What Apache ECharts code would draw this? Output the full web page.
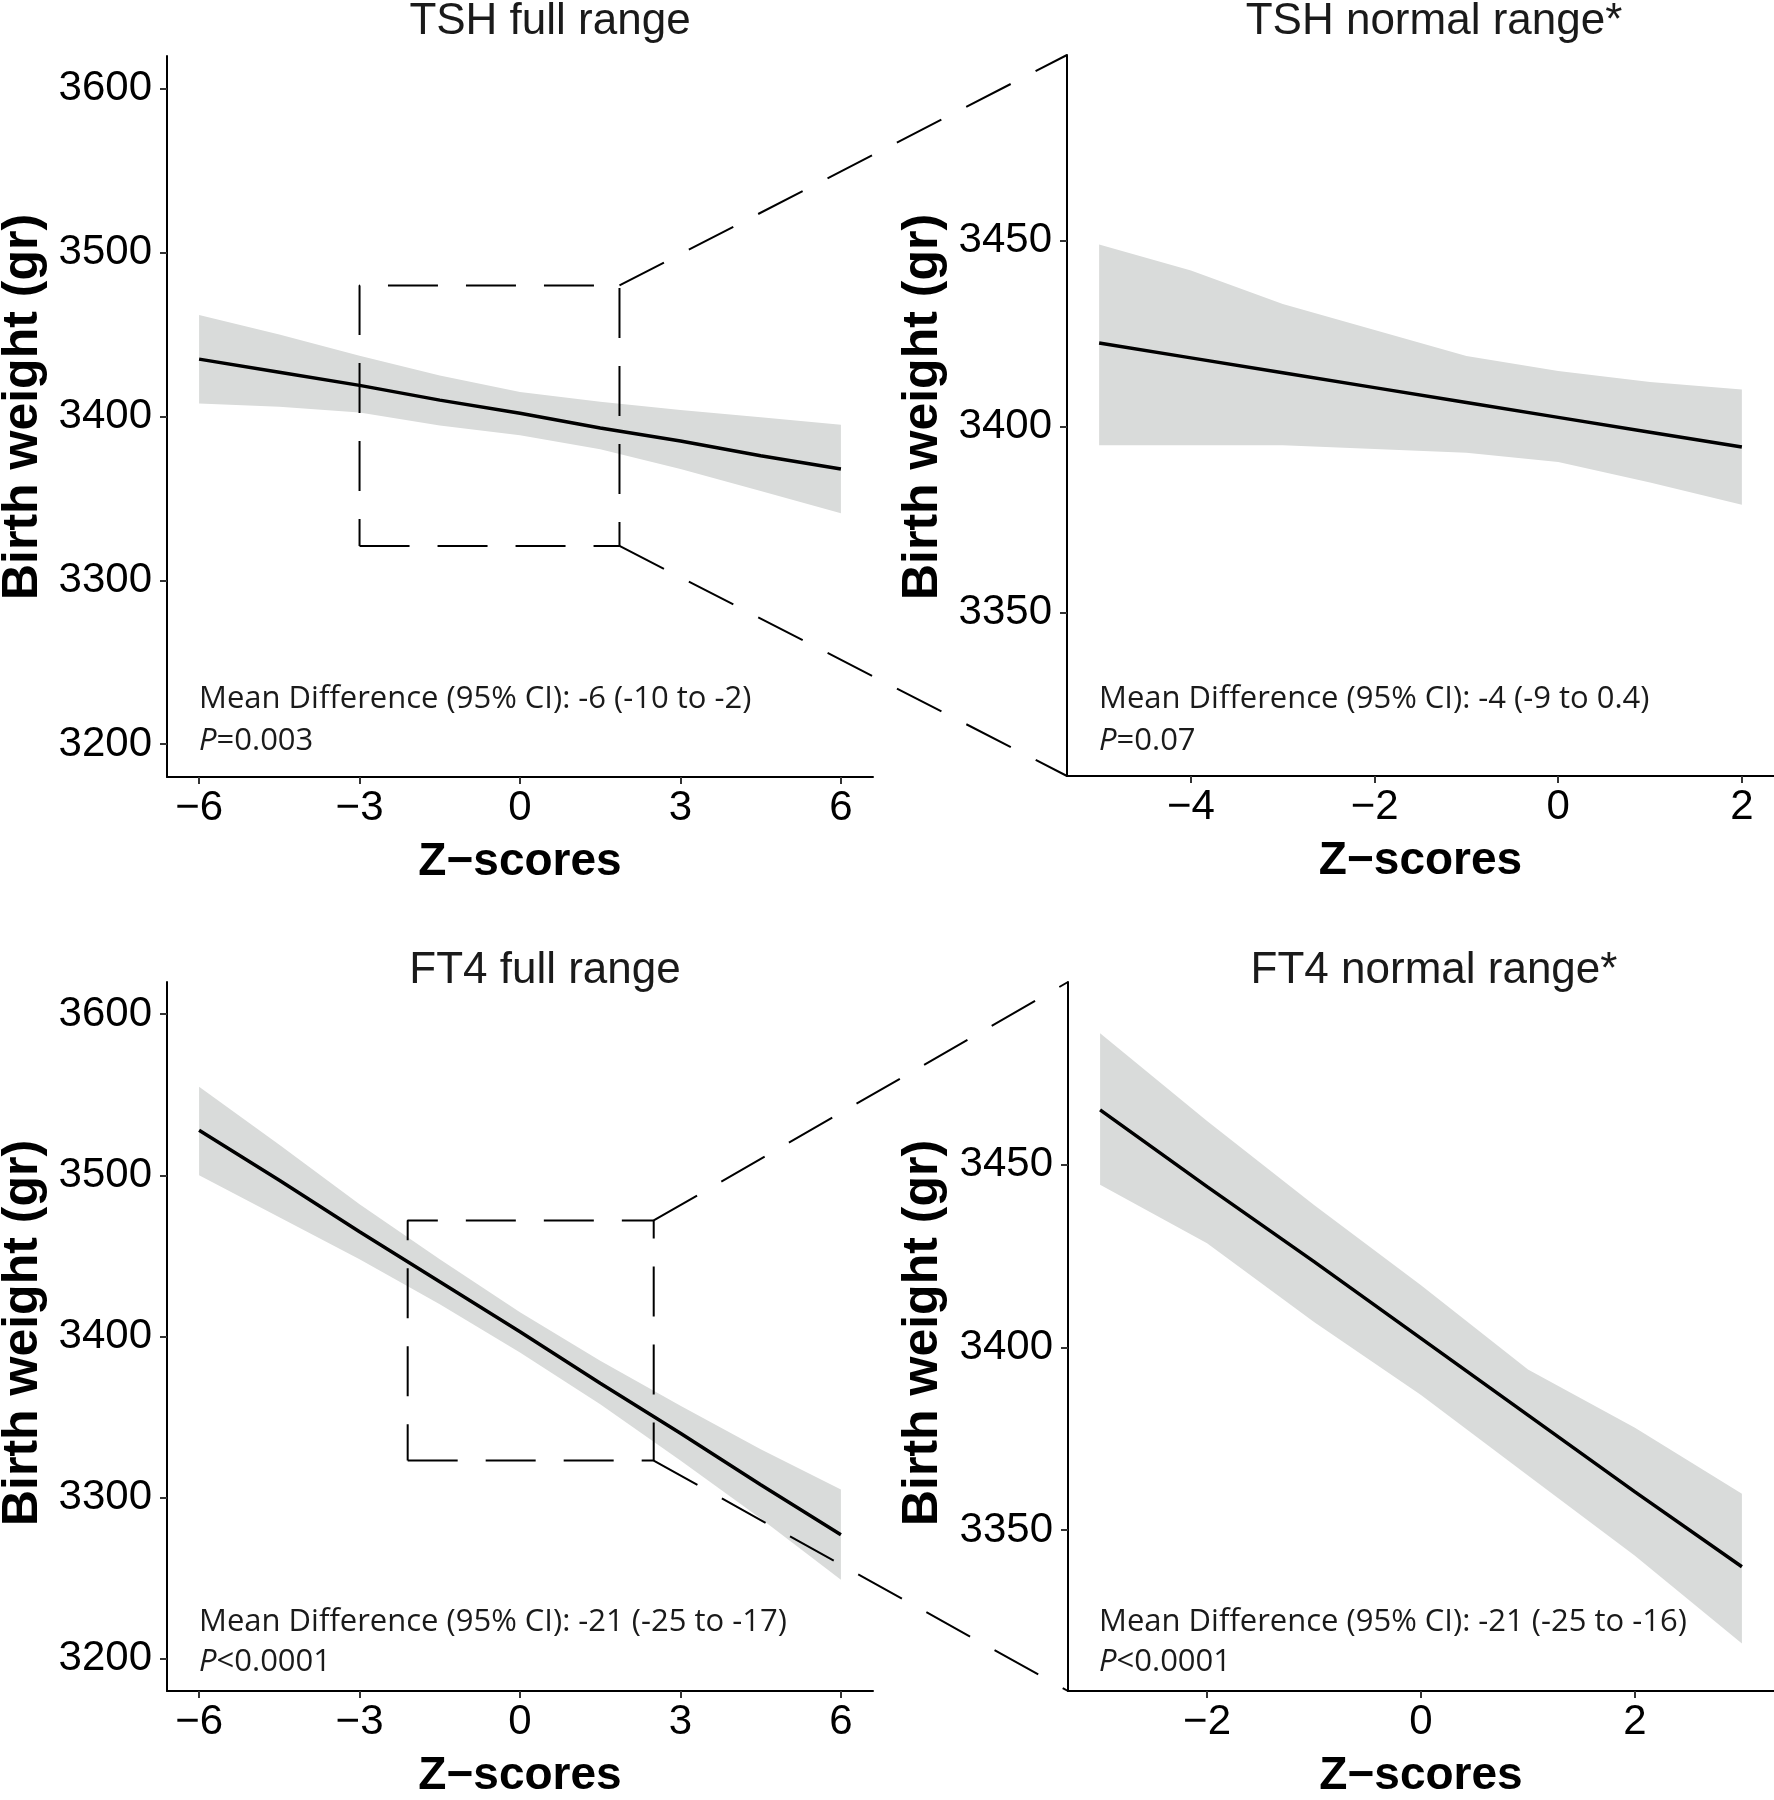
<!DOCTYPE html>
<html><head><meta charset="utf-8">
<script src="https://cdn.jsdelivr.net/npm/echarts@6/dist/echarts.min.js"></script>
<style>html,body{margin:0;padding:0;background:#fff}#c{width:1774px;height:1800px}</style>
</head><body><div id="c"></div>
<script>
// ---------- data ----------
const tshFullX     = [-6, -4.5, -3, -1.5, 0, 1.5, 3, 4.5, 6];
const tshFullFit   = [3435, 3427, 3419, 3410, 3402, 3393, 3385, 3376, 3368];
const tshFullUpper = [3462, 3450, 3437, 3425, 3415, 3409, 3404, 3399.5, 3395];
const tshFullLower = [3408, 3406, 3402.5, 3394.5, 3388.5, 3380, 3368, 3354.5, 3341];

const tshNormX     = [-5, -4, -3, -2, -1, 0, 1, 2];
const tshNormFit   = [3422.5, 3418.5, 3414.5, 3410.5, 3406.5, 3402.5, 3398.5, 3394.5];
const tshNormUpper = [3449, 3442, 3433, 3426, 3419, 3415, 3412, 3410];
const tshNormLower = [3395, 3395, 3395, 3394, 3393, 3390.5, 3385, 3379];

const ft4FullX     = [-6, -4.5, -3, -1.5, 0, 1.5, 3, 4.5, 6];
const ft4FullFit   = [3528, 3497, 3465, 3434, 3403, 3371, 3340, 3308, 3277];
const ft4FullUpper = [3555, 3519, 3482, 3448, 3415, 3385, 3357, 3330, 3305];
const ft4FullLower = [3500, 3474, 3448, 3420, 3390, 3358, 3323, 3287, 3249];

const ft4NormX     = [-3, -2, -1, 0, 1, 2, 3];
const ft4NormFit   = [3465, 3444, 3423.5, 3402.5, 3381.5, 3360.5, 3340];
const ft4NormUpper = [3486, 3462, 3439, 3417, 3394, 3378, 3360];
const ft4NormLower = [3444.5, 3428.5, 3407, 3387, 3365, 3343, 3319];

// zoom boxes drawn in the full-range panels [x0, x1], [y0, y1]
const tshBoxX = [-3, 1.86];
const tshBoxY = [3321, 3480];
const ft4BoxX = [-2.1, 2.5];
const ft4BoxY = [3323, 3472];

// tick labels
const fullXTicks = [-6, -3, 0, 3, 6];
const tshNormXTicks = [-4, -2, 0, 2];
const ft4NormXTicks = [-2, 0, 2];
const fullYTicks = [3200, 3300, 3400, 3500, 3600];
const normYTicks = [3350, 3400, 3450];

// texts
const panelTitles = ['TSH full range', 'TSH normal range*', 'FT4 full range', 'FT4 normal range*'];
const meanDiffTexts = [
  'Mean Difference (95% CI): -6 (-10 to -2)',
  'Mean Difference (95% CI): -4 (-9 to 0.4)',
  'Mean Difference (95% CI): -21 (-25 to -17)',
  'Mean Difference (95% CI): -21 (-25 to -16)'
];
const pTexts = ['=0.003', '=0.07', '<0.0001', '<0.0001'];
const xTitle = 'Z\u2212scores';
const yTitle = 'Birth weight (gr)';

// ---------- layout / style ----------
const AX_FONT = '"Liberation Sans", Arial, sans-serif';
const NOTE_FONT = '"Open Sans", sans-serif';
const grids = [
  {left: 167, top: 56, width: 706, height: 721},
  {left: 1067, top: 55, width: 710, height: 721},
  {left: 167, top: 982, width: 706, height: 720},
  {left: 1068, top: 982, width: 710, height: 720}
];
const xRanges = [[-6.6, 6.6], [-5.35, 2.35], [-6.6, 6.6], [-3.3, 3.3]];
const yRanges = [[3180, 3620], [3306, 3500], [3180, 3620], [3306, 3500]];
const xTickSets = [fullXTicks, tshNormXTicks, fullXTicks, ft4NormXTicks];
const yTickSets = [fullYTicks, normYTicks, fullYTicks, normYTicks];

const fmt = v => (v < 0 ? '\u2212' + Math.abs(v) : String(v));

function axisCommon(i, isX) {
  const r = isX ? xRanges[i] : yRanges[i];
  const ticks = isX ? xTickSets[i] : yTickSets[i];
  const ax = {
    type: 'value', gridIndex: i, min: r[0], max: r[1],
    axisLine: {show: true, onZero: false, lineStyle: {color: '#000', width: 2}},
    axisTick: {show: true, length: 7, customValues: ticks, lineStyle: {color: '#333', width: 2}},
    axisLabel: {customValues: ticks, formatter: fmt, fontSize: 42, fontFamily: AX_FONT,
      color: '#000', margin: isX ? 10 : 15},
    splitLine: {show: false}
  };
  if (isX) {
    ax.name = xTitle;
    ax.nameLocation = 'middle';
    ax.nameGap = 62;
    ax.nameTextStyle = {fontSize: 46, fontWeight: 'bold', fontFamily: AX_FONT, color: '#000'};
  }
  return ax;
}

function bandSeries(i, xs, lo, up) {
  const data = xs.map((x, k) => [x, lo[k], up[k]]);
  return {
    type: 'custom', xAxisIndex: i, yAxisIndex: i, data: data, silent: true, z: 1,
    encode: {x: 0, y: [1, 2]},
    renderItem: function (params, api) {
      if (params.dataIndex !== 0) return null;
      const pts = [];
      for (let k = 0; k < data.length; k++) pts.push(api.coord([data[k][0], data[k][2]]));
      for (let k = data.length - 1; k >= 0; k--) pts.push(api.coord([data[k][0], data[k][1]]));
      return {type: 'polygon', shape: {points: pts}, style: {fill: '#d9dbda'}};
    }
  };
}
function fitSeries(i, xs, ys) {
  return {type: 'line', xAxisIndex: i, yAxisIndex: i, data: xs.map((x, k) => [x, ys[k]]),
    symbol: 'none', silent: true, z: 3, lineStyle: {color: '#000', width: 3.5}};
}
const DASH = [50, 28];
function boxSeries(i, bx, by) {
  return {type: 'line', xAxisIndex: i, yAxisIndex: i, symbol: 'none', silent: true, z: 5,
    data: [[bx[0], by[0]], [bx[1], by[0]], [bx[1], by[1]], [bx[0], by[1]], [bx[0], by[0]]],
    lineStyle: {color: '#000', width: 2, type: DASH}};
}

const chart = echarts.init(document.getElementById('c'), null, {renderer: 'canvas'});
chart.setOption({
  animation: false,
  backgroundColor: '#fff',
  grid: grids.map(g => Object.assign({containLabel: false}, g)),
  xAxis: [0, 1, 2, 3].map(i => axisCommon(i, true)),
  yAxis: [0, 1, 2, 3].map(i => axisCommon(i, false)),
  series: [
    bandSeries(0, tshFullX, tshFullLower, tshFullUpper), fitSeries(0, tshFullX, tshFullFit), boxSeries(0, tshBoxX, tshBoxY),
    bandSeries(1, tshNormX, tshNormLower, tshNormUpper), fitSeries(1, tshNormX, tshNormFit),
    bandSeries(2, ft4FullX, ft4FullLower, ft4FullUpper), fitSeries(2, ft4FullX, ft4FullFit), boxSeries(2, ft4BoxX, ft4BoxY),
    bandSeries(3, ft4NormX, ft4NormLower, ft4NormUpper), fitSeries(3, ft4NormX, ft4NormFit)
  ]
});

// connecting lines from zoom box corners to the zoomed panel corners (via library scales)
function conn(fromGrid, bx, by, toGrid) {
  const a1 = chart.convertToPixel({gridIndex: fromGrid}, [bx[1], by[1]]);
  const b1 = chart.convertToPixel({gridIndex: toGrid}, [xRanges[toGrid][0], yRanges[toGrid][1]]);
  const a2 = chart.convertToPixel({gridIndex: fromGrid}, [bx[1], by[0]]);
  const b2 = chart.convertToPixel({gridIndex: toGrid}, [xRanges[toGrid][0], yRanges[toGrid][0]]);
  const st = {stroke: '#000', lineWidth: 2, lineDash: DASH};
  return [
    {type: 'line', z: 100, silent: true, shape: {x1: a1[0], y1: a1[1], x2: b1[0], y2: b1[1]}, style: st},
    {type: 'line', z: 100, silent: true, shape: {x1: a2[0], y1: a2[1], x2: b2[0], y2: b2[1]}, style: st}
  ];
}

const titlePos = [[550, 22], [1434, 22], [545, 971], [1434, 971]];
const yTitlePos = [[23, 407], [923, 407], [23, 1333], [923, 1333]];
const notePos = [[199, 699, 741], [1099, 699, 741], [199, 1622, 1662], [1099, 1622, 1662]];
const graphics = [].concat(conn(0, tshBoxX, tshBoxY, 1), conn(2, ft4BoxX, ft4BoxY, 3));
for (let i = 0; i < 4; i++) {
  graphics.push({type: 'text', x: titlePos[i][0], y: titlePos[i][1], silent: true, z: 100,
    style: {text: panelTitles[i], fontSize: 44, fontFamily: AX_FONT, fill: '#1a1a1a',
      align: 'center', verticalAlign: 'middle'}});
  graphics.push({type: 'text', x: yTitlePos[i][0], y: yTitlePos[i][1], rotation: Math.PI / 2,
    silent: true, z: 100,
    style: {text: yTitle, fontSize: 50, fontWeight: 'bold', fontFamily: AX_FONT, fill: '#000',
      align: 'center', verticalAlign: 'middle'}});
  graphics.push({type: 'text', x: notePos[i][0], y: notePos[i][1], silent: true, z: 100,
    style: {text: meanDiffTexts[i], fontSize: 31, fontFamily: NOTE_FONT, fill: '#1a1a1a',
      align: 'left', verticalAlign: 'middle'}});
  graphics.push({type: 'text', x: notePos[i][0], y: notePos[i][2], silent: true, z: 100,
    style: {text: '{i|P}' + pTexts[i], fontSize: 31, fontFamily: NOTE_FONT, fill: '#1a1a1a',
      align: 'left', verticalAlign: 'middle',
      rich: {i: {fontStyle: 'italic', fontSize: 31, fontFamily: NOTE_FONT, fill: '#1a1a1a'}}}});
}
chart.setOption({graphic: graphics});
</script>
</body></html>
